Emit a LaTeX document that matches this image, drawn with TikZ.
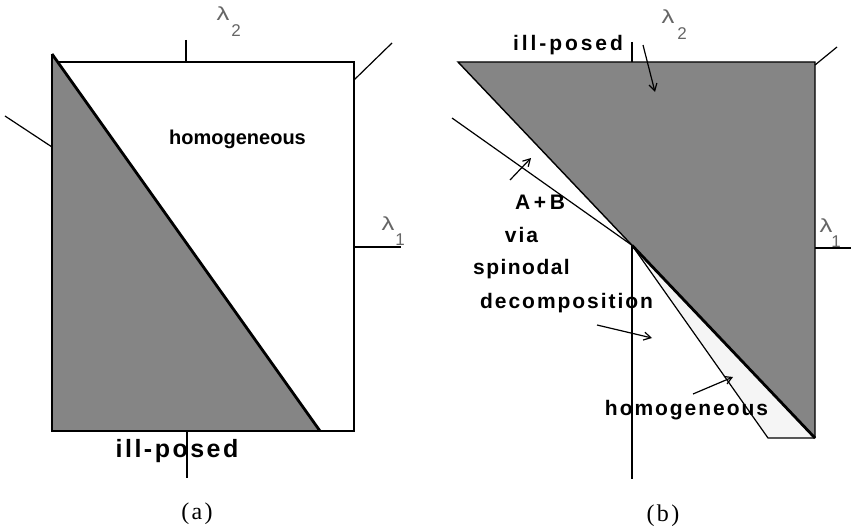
\documentclass[tikz,border=0pt]{standalone}
\usepackage{fontspec}
\setmainfont{Liberation Sans}
\newfontfamily\capfont{Liberation Serif}[LetterSpace=10]
\newfontfamily\lblA{Liberation Sans Bold}
\newfontfamily\lblIP{Liberation Sans Bold}[LetterSpace=10]
\newfontfamily\lblB{Liberation Sans Bold}[LetterSpace=9.3]
\newfontfamily\lblBS{Liberation Sans Bold}[LetterSpace=7]
\newfontfamily\lblBI{Liberation Sans Bold}[LetterSpace=14]
\newfontfamily\lblAB{Liberation Sans Bold}[LetterSpace=17.5]
\usetikzlibrary{arrows.meta}
\begin{document}
\begin{tikzpicture}[x=1pt,y=-1pt,
  shaded/.style={fill=black!48},
  lightshaded/.style={fill=black!4},
  edge/.style={line width=1.4pt,line join=miter},
  thickedge/.style={line width=2.8pt},
  thinline/.style={line width=1.2pt},
  axis/.style={line width=1.3pt},
  arr/.style={line width=1.2pt,-{Straight Barb[length=7pt,width=8pt]}},
  lam/.style={inner sep=0pt,text=black!60,font=\fontsize{19}{19}\selectfont},
  lamsub/.style={inner sep=0pt,text=black!60,font=\fontsize{17}{17}\selectfont},
  txtA/.style={inner sep=0pt,anchor=base,font=\lblA\fontsize{20}{21}\selectfont},
  txtIP/.style={inner sep=0pt,anchor=base,font=\lblIP\fontsize{25}{26}\selectfont},
  txtB/.style={inner sep=0pt,anchor=base,font=\lblB\fontsize{21}{22}\selectfont},
  txtBS/.style={inner sep=0pt,anchor=base,font=\lblBS\fontsize{21}{22}\selectfont},
  txtBI/.style={inner sep=0pt,anchor=base,font=\lblBI\fontsize{21}{22}\selectfont},
  txtAB/.style={inner sep=0pt,anchor=base,font=\lblAB\fontsize{21}{22}\selectfont},
  captxt/.style={inner sep=0pt,font=\capfont\fontsize{24}{26}\selectfont}]
\useasboundingbox (0,0) rectangle (851,532);
\fill[white] (0,0) rectangle (851,532);

% ---------------- panel (a) ----------------
\coordinate (aT) at (52,54);
\coordinate (aTL) at (57.7,62);
\coordinate (aTR) at (354,62);
\coordinate (aBR) at (354,431);
\coordinate (aBL) at (52,431);
\coordinate (aD) at (320,431);
\fill[shaded] (aT) -- (aD) -- (aBL) -- cycle;
\draw[edge] (aTL) -- (aTR) -- (aBR) -- (aBL) -- (aT);
\draw[thickedge] (aT) -- (aD);
% lambda_2 axis
\coordinate (aY1) at (186,40);
\coordinate (aY2) at (186,62);
\coordinate (aY3) at (187,431);
\coordinate (aY4) at (187,478);
\draw[axis] (aY1) -- (aY2);
\draw[axis] (aY3) -- (aY4);
% lambda_1 axis
\coordinate (aX1) at (354,247);
\coordinate (aX2) at (401,247);
\draw[axis] (aX1) -- (aX2);
% oblique axis
\coordinate (aO1) at (354,80);
\coordinate (aO2) at (392,43);
\coordinate (aO3) at (5,116);
\coordinate (aO4) at (52,147);
\draw[thinline] (aO1) -- (aO2);
\draw[thinline] (aO3) -- (aO4);
% labels
\node[lam] (aL2) at (223,14) {\scalebox{1.35}[1]{λ}};
\node[lamsub] (aL2s) at (236,31) {2};
\node[lam] (aL1) at (388,224) {\scalebox{1.35}[1]{λ}};
\node[lamsub] (aL1s) at (400,240) {1};
\node[txtA] (aHom) at (237.5,145) {homogeneous};
\node[txtIP] (aIll) at (177,457) {ill-posed};
\node[captxt] (capA) at (197,514) {(a)};

% ---------------- panel (b) ----------------
\coordinate (bTL) at (458,62);
\coordinate (bTR) at (815,62);
\coordinate (bBR) at (815,438);
\coordinate (bI) at (632,245.3);
\coordinate (bS0) at (452,118);
\coordinate (bS1) at (768,438);
\fill[shaded] (bTL) -- (bTR) -- (bBR) -- cycle;
\fill[lightshaded] (bI) -- (bS1) -- (bBR) -- cycle;
\draw[edge] (bI) -- (bTL) -- (bTR) -- (bBR);
\draw[thickedge] (bI) -- (bBR);
\draw[thinline] (bS0) -- (bI) -- (bS1) -- (bBR);
% lambda_2 axis
\coordinate (bY1) at (632,42);
\coordinate (bY2) at (632,62);
\coordinate (bY4) at (632,479);
\draw[axis] (bY1) -- (bY2);
\draw[axis] (bI) -- (bY4);
% lambda_1 axis
\coordinate (bX1) at (815,248);
\coordinate (bX2) at (851,248);
\draw[axis] (bX1) -- (bX2);
% oblique axis
\coordinate (bO1) at (815,65);
\coordinate (bO2) at (837,47);
\draw[thinline] (bO1) -- (bO2);
% labels
\node[lam] (bL2) at (668,17) {\scalebox{1.35}[1]{λ}};
\node[lamsub] (bL2s) at (682,34) {2};
\node[lam] (bL1) at (826,226) {\scalebox{1.35}[1]{λ}};
\node[lamsub] (bL1s) at (836,242) {1};
\node[txtBI] (bIll) at (568,51) {ill-posed};
\node[txtAB] (bAB) at (540,209) {A+B};
\node[txtB] (bVia) at (521.5,242) {via};
\node[txtBS,anchor=base west] (bSpin) at (473,274) {spinodal};
\node[txtB,anchor=base west] (bDec) at (480,308) {decomposition};
\node[txtB] (bHom) at (686.5,415) {homogeneous};
\node[captxt] (capB) at (663,516) {(b)};
% arrows
\coordinate (ar1a) at (643,45);
\coordinate (ar1b) at (655,92);
\coordinate (ar2a) at (510,180);
\coordinate (ar2b) at (531,158);
\coordinate (ar3a) at (597,325);
\coordinate (ar3b) at (652,338);
\coordinate (ar4a) at (693,394);
\coordinate (ar4b) at (733,377);
\draw[arr] (ar1a) -- (ar1b);
\draw[arr] (ar2a) -- (ar2b);
\draw[arr] (ar3a) -- (ar3b);
\draw[arr] (ar4a) -- (ar4b);
\end{tikzpicture}
\end{document}
